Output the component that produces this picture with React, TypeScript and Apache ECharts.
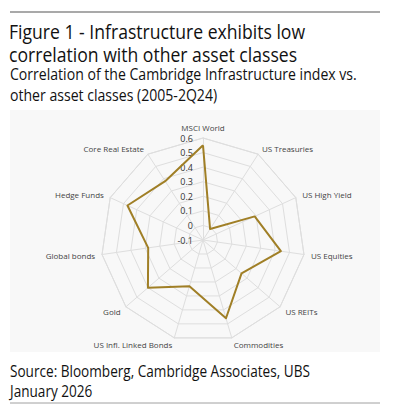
import React, { useEffect, useRef } from "react";
import * as echarts from "echarts";

// Clockwise from the top
const categories = [
  "MSCI World",
  "US Treasuries",
  "US High Yield",
  "US Equities",
  "US REITs",
  "Commodities",
  "US Infl. Linked Bonds",
  "Gold",
  "Global bonds",
  "Hedge Funds",
  "Core Real Estate",
];
const correlations = [0.55, -0.01, 0.29, 0.44, 0.25, 0.46, 0.23, 0.4, 0.28, 0.47, 0.38];
const axisMin = -0.1;
const axisMax = 0.6;

const titleLines = ["Figure 1 - Infrastructure exhibits low", "correlation with other asset classes"];
const subtitleLines = [
  "Correlation of the Cambridge Infrastructure index vs.",
  "other asset classes (2005-2Q24)",
];
const sourceLines = ["Source: Bloomberg, Cambridge Associates, UBS", "January 2026"];

const FONT = "'Open Sans', 'Noto Sans', sans-serif";

export default function App() {
  const ref = useRef<HTMLDivElement>(null);
  useEffect(() => {
    if (!ref.current) return;
    const chart = echarts.init(ref.current, undefined, { renderer: "svg" });
    // ECharts lays radar indicators out counter-clockwise; reorder so they read clockwise.
    const order = [0, ...categories.map((_, i) => i).slice(1).reverse()];
    const indNames = order.map((i) => categories[i]);
    const indValues = order.map((i) => correlations[i]);
    chart.setOption({
      animation: false,
      backgroundColor: "#ffffff",
      textStyle: { fontFamily: FONT },
      graphic: [
        { type: "rect", shape: { x: 10, y: 110, width: 370, height: 242 }, style: { fill: "#f8f8f8" }, z: -10 },
        { type: "line", shape: { x1: 10, y1: 12, x2: 380, y2: 12 }, style: { stroke: "#8c8c8c", lineWidth: 1.5 } },
        { type: "line", shape: { x1: 10, y1: 403, x2: 380, y2: 403 }, style: { stroke: "#a0a0a0", lineWidth: 1 } },
        {
          type: "text",
          x: 9,
          y: 20,
          scaleX: 0.88,
          style: { text: titleLines.join("\n"), font: `20px ${FONT}`, fill: "#111", lineHeight: 23, verticalAlign: "top" },
        },
        {
          type: "text",
          x: 10,
          y: 63,
          scaleX: 0.88,
          style: { text: subtitleLines.join("\n"), font: `16px ${FONT}`, fill: "#111", lineHeight: 21, verticalAlign: "top" },
        },
        {
          type: "text",
          x: 10,
          y: 361,
          scaleX: 0.8,
          style: { text: sourceLines.join("\n"), font: `17px ${FONT}`, fill: "#111", lineHeight: 20, verticalAlign: "top" },
        },
      ],
      radar: {
        center: [203, 240],
        radius: 102,
        startAngle: 90,
        splitNumber: 7,
        shape: "polygon",
        nameGap: 7,
        axisName: { color: "#444", fontSize: 8, fontFamily: FONT },
        splitLine: { lineStyle: { color: "#dedede", width: 1 } },
        splitArea: { show: false },
        axisLine: { lineStyle: { color: "#dedede", width: 1 } },
        axisTick: { show: false },
        axisLabel: { show: false },
        indicator: indNames.map((name, i) => ({
          name,
          min: axisMin,
          max: axisMax,
          ...(i === 0
            ? {
                axisLabel: {
                  show: true,
                  color: "#333",
                  fontSize: 9,
                  fontFamily: FONT,
                  margin: 10,
                  formatter: (v: number) => String(Math.round(v * 10) / 10),
                },
              }
            : {}),
        })),
      },
      series: [
        {
          type: "radar",
          symbol: "none",
          lineStyle: { color: "#a07f26", width: 2 },
          data: [{ value: indValues, name: "Correlation" }],
        },
      ],
    });
    return () => chart.dispose();
  }, []);
  return <div ref={ref} style={{ position: "fixed", left: 0, top: 0, width: 397, height: 409 }} />;
}
